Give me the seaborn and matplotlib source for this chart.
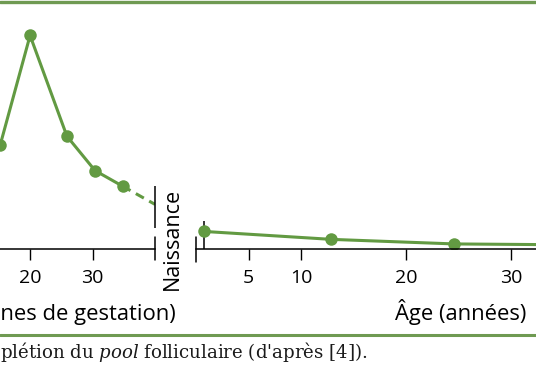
import matplotlib.pyplot as plt
from matplotlib.lines import Line2D
import seaborn as sns
import pandas as pd

# Nombre de follicules (millions) pendant la vie foetale
weeks = [15.2, 20, 25.9, 30.4, 34.8]
follicles_fetal = [3.39, 7.0, 3.69, 2.56, 2.05]
# Extrapolation (pointillés) jusqu'à la naissance
weeks_birth = [34.8, 40]
follicles_birth = [2.05, 1.45]

# Nombre de follicules (millions) après la naissance
ages = [0.8, 12.9, 24.6, 36]
follicles_post = [0.56, 0.30, 0.15, 0.12]

week_ticks = [20, 30]
age_ticks = [5, 10, 20, 30]

GREEN = '#629a42'
BAND = '#6f9a52'
W, H = 536, 386

sns.set_theme(style='white')
plt.rcParams['font.family'] = ['Open Sans', 'DejaVu Sans']
plt.rcParams['text.color'] = 'black'
plt.rcParams['xtick.color'] = 'black'
plt.rcParams['mathtext.fontset'] = 'custom'
plt.rcParams['mathtext.it'] = 'DejaVu Serif:italic'
plt.rcParams['mathtext.rm'] = 'DejaVu Serif'

fig = plt.figure(figsize=(W / 100, H / 100), dpi=100)

# axes placed in pixel units of the reference
axis_y = 248.5
top_y = 10
bottom = (H - axis_y) / H
height = (axis_y - top_y) / H
ymax = (axis_y - top_y) / 30.43

ax1 = fig.add_axes([0, bottom, 155 / W, height])
ax2 = fig.add_axes([196 / W, bottom, (W - 196) / W, height])

fetal = pd.DataFrame({'semaines': weeks, 'follicules': follicles_fetal})
birth = pd.DataFrame({'semaines': weeks_birth, 'follicules': follicles_birth})
post = pd.DataFrame({'age': ages, 'follicules': follicles_post})

sns.lineplot(data=fetal, x='semaines', y='follicules', ax=ax1, color=GREEN,
             linewidth=2.2, marker='o', markersize=9, markeredgewidth=0)
sns.lineplot(data=birth, x='semaines', y='follicules', ax=ax1, color=GREEN,
             linewidth=2.2, linestyle=(0, (3, 2)))
sns.lineplot(data=post, x='age', y='follicules', ax=ax2, color=GREEN,
             linewidth=2.2, marker='o', markersize=9, markeredgewidth=0)

ax1.set_xlim(20 - 30 / 6.23, 40)
ax2.set_xlim(0, (W - 196) / 10.5)

for ax, ticks in [(ax1, week_ticks), (ax2, age_ticks)]:
    ax.set_ylim(0, ymax)
    ax.set_xticks(ticks)
    ax.set_xticklabels([str(t) for t in ticks])
    ax.set_yticks([])
    ax.set_xlabel('')
    ax.set_ylabel('')
    ax.tick_params(axis='x', direction='out', length=8, width=1, color='black',
                   labelcolor='black', labelsize=14, pad=6.5, bottom=True)
    for side in ['top', 'left', 'right']:
        ax.spines[side].set_visible(False)
    ax.spines['bottom'].set_color('black')
    ax.spines['bottom'].set_linewidth(1.1)
    ax.patch.set_alpha(0)

# axis break markers
ax1.plot([1, 1], [-0.05, 0.05], transform=ax1.transAxes, color='black',
         lw=1.1, clip_on=False)
ax2.plot([0, 0], [-0.055, 0.05], transform=ax2.transAxes, color='black',
         lw=1.1, clip_on=False)
# birth markers
ax1.vlines(weeks_birth[-1], follicles_birth[-1] - 0.78, follicles_birth[-1] + 0.6,
           color='black', lw=1.1, clip_on=False)
ax2.vlines(ages[0], 0, follicles_post[0] + 0.36, color='black', lw=1.1, zorder=1)

fig.text(172 / W, 1 - 238.5 / H, 'Naissance', rotation=90, ha='center',
         va='center', fontsize=15.5)
fig.text(176 / W, 1 - 312 / H, 'Âge (semaines de gestation)', ha='right',
         va='center', fontsize=15.8)
fig.text(526 / W, 1 - 312 / H, 'Âge (années)', ha='right', va='center',
         fontsize=15.8)

# green bands
for y, lw in [(1.5, 2.4), (335, 2.2)]:
    fig.add_artist(Line2D([0, 1], [1 - y / H, 1 - y / H], transform=fig.transFigure,
                          color=BAND, lw=lw))

fig.text(0, 1 - 357.5 / H, r"plétion du $\mathit{pool}$ folliculaire (d'après [4]).",
         ha='left', va='baseline', fontsize=13.1, family='DejaVu Serif', color='#1a1a1a')

fig.savefig('out.png', dpi=100)
